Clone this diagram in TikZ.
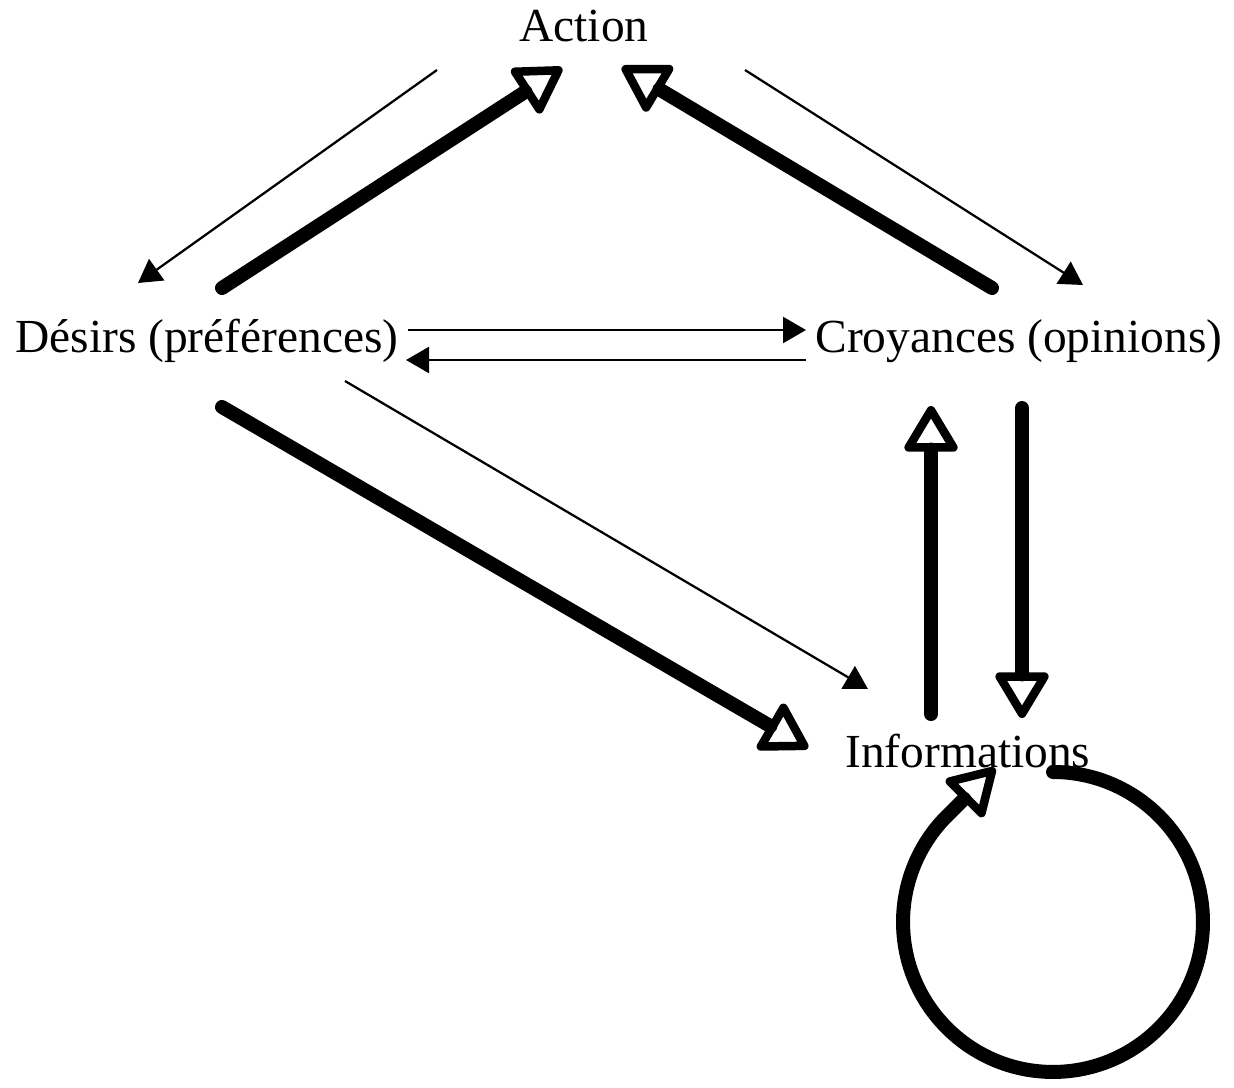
\documentclass[tikz,border=0pt]{standalone}
\usepackage{fontspec}
\setmainfont{Liberation Serif}
\usetikzlibrary{arrows.meta}
\begin{document}
\begin{tikzpicture}[x=0.02cm,y=-0.02cm,
  lbl/.style={inner sep=0pt, anchor=base west, font=\fontsize{27}{32}\selectfont},
  thinarrow/.style={line width=0.045cm, -{Triangle[length=0.46cm,width=0.52cm]}},
  thickarrow/.style={line width=0.28cm, line cap=round,
     -{Triangle[open,round,length=1.0cm,width=1.15cm,line width=0.17cm]}}]
\useasboundingbox (0,0) rectangle (1234,1088);
\node[lbl] (action) at (519,42) {Action};
\node[lbl] (desirs) at (15,352) {Désirs (préférences)};
\node[lbl] (croy) at (815,352) {Croyances (opinions)};
\node[lbl] (info) at (845,767) {Informations};
% endpoints
\coordinate (a1s) at (437,70);  \coordinate (a1e) at (138,283);
\coordinate (a2s) at (222,288); \coordinate (a2e) at (562,68);
\coordinate (a3s) at (992,288); \coordinate (a3e) at (622,67);
\coordinate (a4s) at (745,70);  \coordinate (a4e) at (1083,285);
\coordinate (a5s) at (408,330); \coordinate (a5e) at (806,330);
\coordinate (a6s) at (806,360); \coordinate (a6e) at (406,360);
\coordinate (a7s) at (345,381); \coordinate (a7e) at (868,689);
\coordinate (a8s) at (222,407); \coordinate (a8e) at (808,748);
\coordinate (a9s) at (931,714); \coordinate (a9e) at (931,406);
\coordinate (a10s) at (1022,408); \coordinate (a10e) at (1022,718);
\coordinate (ls) at (1053,772); \coordinate (le) at (995,768);
% action -> desirs
\draw[thinarrow] (a1s) -- (a1e);
% desirs -> action
\draw[thickarrow] (a2s) -- (a2e);
% croyances -> action
\draw[thickarrow] (a3s) -- (a3e);
% action -> croyances
\draw[thinarrow] (a4s) -- (a4e);
% desirs <-> croyances
\draw[thinarrow] (a5s) -- (a5e);
\draw[thinarrow] (a6s) -- (a6e);
% desirs -> informations
\draw[thinarrow] (a7s) -- (a7e);
\draw[thickarrow] (a8s) -- (a8e);
% informations <-> croyances
\draw[thickarrow] (a9s) -- (a9e);
\draw[thickarrow] (a10s) -- (a10e);
% self loop
\draw[thickarrow] (ls) arc[start angle=90, end angle=-225, radius=3.0cm] -- (le);
\end{tikzpicture}
\end{document}
